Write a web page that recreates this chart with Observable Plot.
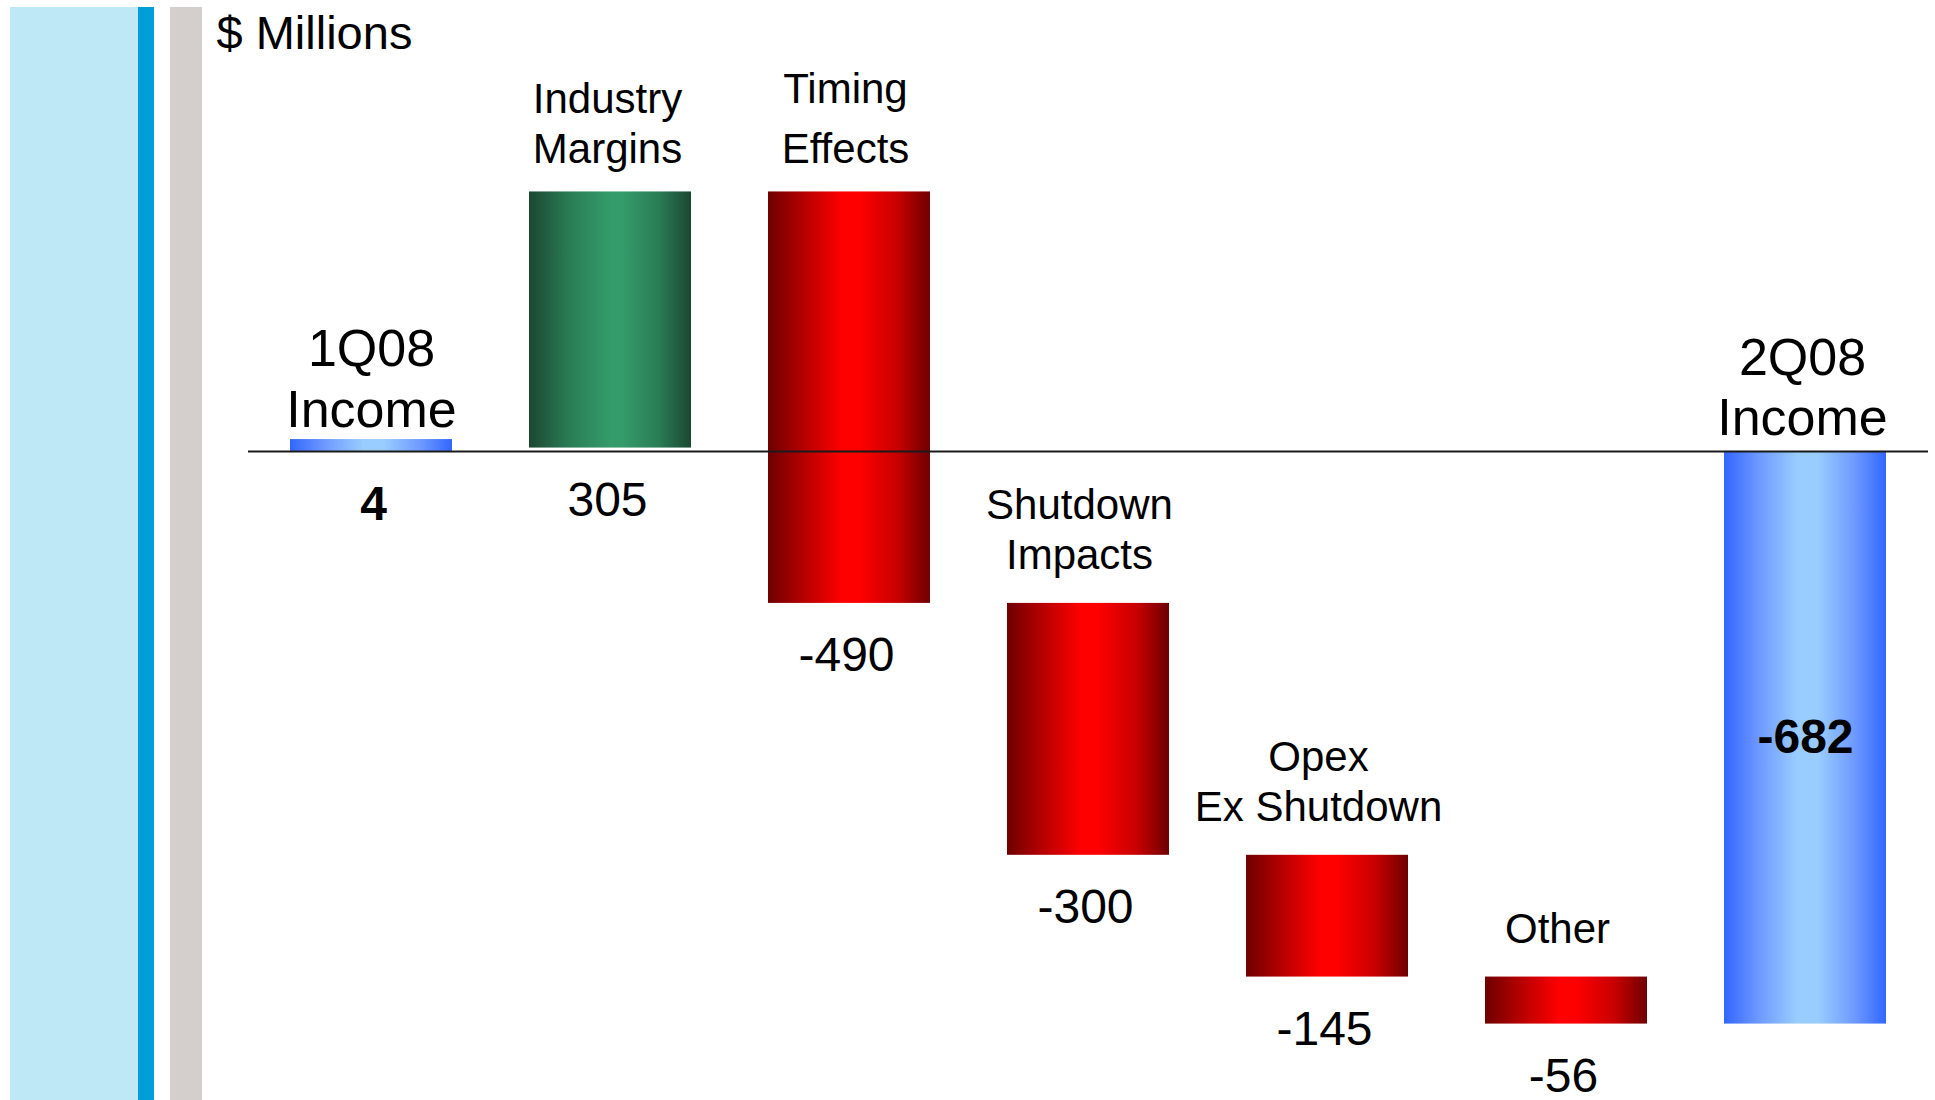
<!DOCTYPE html>
<html><head><meta charset="utf-8">
<script src="https://cdn.jsdelivr.net/npm/d3@7"></script>
<script src="https://cdn.jsdelivr.net/npm/@observablehq/plot@0.6"></script>
<style>
html,body{margin:0;padding:0;background:#fff;overflow:hidden;}
#wrap{position:relative;width:1935px;height:1100px;}
.stripe{position:absolute;top:7px;bottom:0;}
#chart{position:absolute;left:0;top:0;}
</style></head><body>
<div id="wrap">
<div class="stripe" style="left:10px;width:128px;background:#bee8f5"></div>
<div class="stripe" style="left:138px;width:16px;background:#009ed9"></div>
<div class="stripe" style="left:170px;width:32px;background:#d4cfcc"></div>
<div id="chart"></div>
</div>
<script>
// ---- data ----
const categories = ["1Q08 Income","Industry Margins","Timing Effects","Shutdown Impacts","Opex Ex Shutdown","Other","2Q08 Income"];
const labelLines = ["1Q08\nIncome","Industry\nMargins","Timing\nEffects","Shutdown\nImpacts","Opex\nEx Shutdown","Other","2Q08\nIncome"];
const values = [4, 305, -490, -300, -145, -56, -682];
const kinds = ["total","delta","delta","delta","delta","delta","total"];
const valueLabels = ["4","305","-490","-300","-145","-56","-682"];
const unitLabel = "$ Millions";

// ---- waterfall table ----
let run = 0;
const rows = categories.map((c, i) => {
  let y1, y2;
  if (kinds[i] === "total") { y1 = 0; y2 = values[i]; run = values[i]; }
  else { y1 = run; y2 = run + values[i]; run = y2; }
  return {category: c, label: labelLines[i], value: values[i], valueLabel: valueLabels[i], kind: kinds[i],
          idx: i, y1, y2, top: Math.max(y1, y2), bottom: Math.min(y1, y2), mid: (y1 + y2) / 2};
});
const first = rows.filter(d => d.idx === 0);
const last = rows.filter(d => d.idx === rows.length - 1);
const ups = rows.filter(d => d.kind === "delta" && d.value >= 0);
const downs = rows.filter(d => d.kind === "delta" && d.value < 0);
const deltas = rows.filter(d => d.kind === "delta");
const lowerDeltas = deltas.filter(d => d.idx > 2);
const font = "'Liberation Sans', Arial, Helvetica, sans-serif";

const chart = Plot.plot({
  width: 1935,
  height: 1100,
  marginLeft: 248,
  marginRight: 7,
  marginTop: 0,
  marginBottom: 0,
  style: {fontFamily: font, background: "transparent", overflow: "visible"},
  x: {domain: categories, paddingInner: 0.324, paddingOuter: 0.167, axis: null},
  y: {domain: [-773, 537], axis: null},
  marks: [
    Plot.barY(first, {x: "category", y1: "y1", y2: "y2", fill: "url(#gBlue)", insetTop: -8.5}),
    Plot.barY(last, {x: "category", y1: "y1", y2: "y2", fill: "url(#gBlue)"}),
    Plot.barY(ups, {x: "category", y1: "y1", y2: "y2", fill: "url(#gGreen)"}),
    Plot.barY(downs, {x: "category", y1: "y1", y2: "y2", fill: "url(#gRed)"}),
    Plot.ruleY([0], {stroke: "#1a1a1a", strokeWidth: 2}),
    // category labels
    Plot.text(deltas.filter(d => d.idx === 1), {x: "category", y: "top", text: "label",
      lineAnchor: "bottom", lineHeight: 1.19, dx: -3, dy: -29, fontSize: 42, fill: "#000"}),
    Plot.text(deltas.filter(d => d.idx === 2), {x: "category", y: "top", text: "label",
      lineAnchor: "bottom", lineHeight: 1.43, dx: -4, dy: -29, fontSize: 42, fill: "#000"}),
    Plot.text(lowerDeltas, {x: "category", y: "top", text: "label",
      lineAnchor: "bottom", lineHeight: 1.19, dx: -9, dy: -34, fontSize: 42, fill: "#000"}),
    Plot.text(first, {x: "category", y: "top", text: "label", lineAnchor: "bottom", lineHeight: 1.17, dy: -21, fontSize: 52, fill: "#000"}),
    Plot.text(last, {x: "category", y: "top", text: "label", lineAnchor: "bottom", lineHeight: 1.17, dx: -3, dy: -16, fontSize: 52, fill: "#000"}),
    // value labels
    Plot.text(deltas, {x: "category", y: "bottom", text: "valueLabel", lineAnchor: "bottom", dx: -3, dy: 68, fontSize: 48, fill: "#000"}),
    Plot.text(first, {x: "category", y: "bottom", text: "valueLabel", lineAnchor: "bottom", dx: 2, dy: 69, fontSize: 48, fontWeight: "bold", fill: "#000"}),
    Plot.text(last, {x: "category", y: "mid", text: "valueLabel", lineAnchor: "middle", fontSize: 48, fontWeight: "bold", fill: "#000"}),
    // unit label
    Plot.text([unitLabel], {text: d => d, frameAnchor: "top-left", textAnchor: "start", lineAnchor: "top", dx: -32, dy: 15, fontSize: 47, fill: "#000"})
  ]
});

const defs = document.createElementNS("http://www.w3.org/2000/svg", "defs");
defs.innerHTML = `
<linearGradient id="gRed" x1="0" x2="1" y1="0" y2="0">
  <stop offset="0" stop-color="#6e0000"/><stop offset="0.2" stop-color="#b00000"/>
  <stop offset="0.46" stop-color="#ff0000"/><stop offset="0.56" stop-color="#ff0000"/>
  <stop offset="0.8" stop-color="#c80000"/><stop offset="1" stop-color="#6e0000"/>
</linearGradient>
<linearGradient id="gGreen" x1="0" x2="1" y1="0" y2="0">
  <stop offset="0" stop-color="#1b4732"/><stop offset="0.25" stop-color="#2a7d55"/>
  <stop offset="0.5" stop-color="#349b6b"/><stop offset="0.58" stop-color="#349b6b"/>
  <stop offset="0.8" stop-color="#2a7d55"/><stop offset="1" stop-color="#1b4732"/>
</linearGradient>
<linearGradient id="gBlue" x1="0" x2="1" y1="0" y2="0">
  <stop offset="0" stop-color="#3366ff"/><stop offset="0.22" stop-color="#6f9aff"/>
  <stop offset="0.45" stop-color="#99ccff"/><stop offset="0.58" stop-color="#99ccff"/>
  <stop offset="0.8" stop-color="#6f9bff"/><stop offset="1" stop-color="#3366ff"/>
</linearGradient>`;
chart.insertBefore(defs, chart.firstChild);
document.getElementById("chart").appendChild(chart);
</script>
</body></html>
